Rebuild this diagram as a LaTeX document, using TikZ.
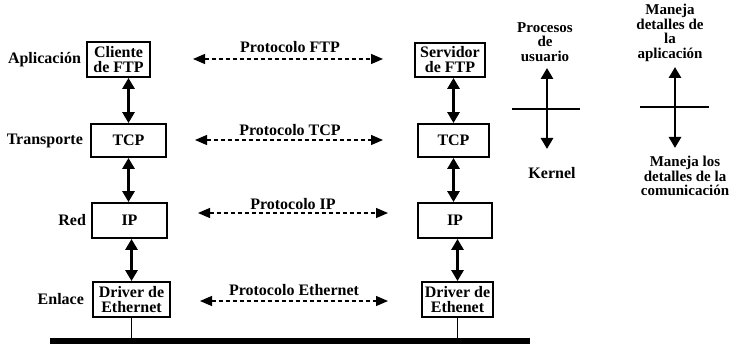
\documentclass[tikz,border=0pt]{standalone}
\usepackage{fontspec}
\setmainfont{Liberation Serif}
\usetikzlibrary{arrows.meta, positioning, calc}

\begin{document}
\begin{tikzpicture}[x=1pt, y=-1pt,
    every node/.style={font=\bfseries\fontsize{16}{15}\selectfont, align=center, inner sep=0pt},
    capa/.style={draw, line width=1.8pt, minimum height=35pt},
    pila/.style={line width=2.8pt, {Triangle[width=12pt,length=11pt]}-{Triangle[width=12pt,length=11pt]}},
    proto/.style={line width=1.3pt, dash pattern=on 4pt off 3pt, {Triangle[width=10pt,length=12pt]}-{Triangle[width=10pt,length=12pt]}},
    eje/.style={line width=1.4pt},
    nota/.style={font=\bfseries\fontsize{15}{14.5}\selectfont}]
\useasboundingbox (0,0) rectangle (735,344);

% pila del cliente
\node[capa, minimum width=63pt] (cliente) at (118.5,59.5) {Cliente\\de FTP};
\node[capa, minimum width=75pt, minimum height=33pt] (tcpcli) at (128.5,140.5) {TCP};
\node[capa, minimum width=75pt] (ipcli) at (129.5,220.5) {IP};
\node[capa, minimum width=77pt] (drvcli) at (131.5,299.5) {Driver de\\Ethernet};

% pila del servidor
\node[capa, minimum width=70pt, minimum height=34pt] (servidor) at (450,60) {Servidor\\de FTP};
\node[capa, minimum width=71pt, minimum height=33pt] (tcpsrv) at (453.5,140.5) {TCP};
\node[capa, minimum width=74pt] (ipsrv) at (455,220.5) {IP};
\node[capa, minimum width=71pt] (drvsrv) at (457.5,299.5) {Driver de\\Ethenet};

% nombres de las capas
\node[left=5pt of cliente] (lapl) {Aplicación};
\node[left=7pt of tcpcli] (ltra) {Transporte};
\node[left=5pt of ipcli] (lred) {Red};
\node[left=8pt of drvcli] (lenl) {Enlace};

% flechas entre capas
\draw[pila] (tcpcli.north) -- (tcpcli.north |- cliente.south);
\draw[pila] (tcpcli.south) -- (tcpcli.south |- ipcli.north);
\draw[pila] (drvcli.north) -- (drvcli.north |- ipcli.south);
\draw[pila] (tcpsrv.north) -- (tcpsrv.north |- servidor.south);
\draw[pila] (tcpsrv.south) -- (tcpsrv.south |- ipsrv.north);
\draw[pila] (drvsrv.north) -- (drvsrv.north |- ipsrv.south);

% protocolos
\coordinate (ftpL) at (193,59);  \coordinate (ftpR) at (383,59);
\coordinate (tcpL) at (195,140); \coordinate (tcpR) at (383,140);
\coordinate (ipL) at (198,213);  \coordinate (ipR) at (388,213);
\coordinate (ethL) at (200,301); \coordinate (ethR) at (388,301);
\draw[proto] (ftpL) -- (ftpR);
\draw[proto] (tcpL) -- (tcpR);
\draw[proto] (ipL) -- (ipR);
\draw[proto] (ethL) -- (ethR);
\node (pftp) at (290,47) {Protocolo FTP};
\node (ptcp) at (290,130) {Protocolo TCP};
\node (pip) at (293,204) {Protocolo IP};
\node (peth) at (294,290) {Protocolo Ethernet};

% red Ethernet
\coordinate (busL) at (50,341);
\coordinate (busR) at (530,341);
\draw[line width=6pt] (busL) -- (busR);
\draw[eje] (drvcli.south) -- (drvcli.south |- busL);
\draw[eje] (drvsrv.south) -- (drvsrv.south |- busL);

% usuario / kernel
\node[nota] (procesos) at (545,42) {Procesos\\de\\usuario};
\node (kernel) at (552,173) {Kernel};
\coordinate (usrT) at (547,68);  \coordinate (usrB) at (547,149);
\coordinate (usrL) at (512,109); \coordinate (usrR) at (580,109);
\draw[pila] (usrT) -- (usrB);
\draw[eje] (usrL) -- (usrR);

% aplicacion / comunicacion
\node[nota] (detapl) at (670,33) {Maneja\\detalles de\\la\\aplicación};
\node[nota] (detcom) at (685,176) {Maneja los\\detalles de la\\comunicación};
\coordinate (comT) at (675,67);  \coordinate (comB) at (675,148);
\coordinate (comL) at (640,107); \coordinate (comR) at (709,107);
\draw[pila] (comT) -- (comB);
\draw[eje] (comL) -- (comR);
\end{tikzpicture}
\end{document}
